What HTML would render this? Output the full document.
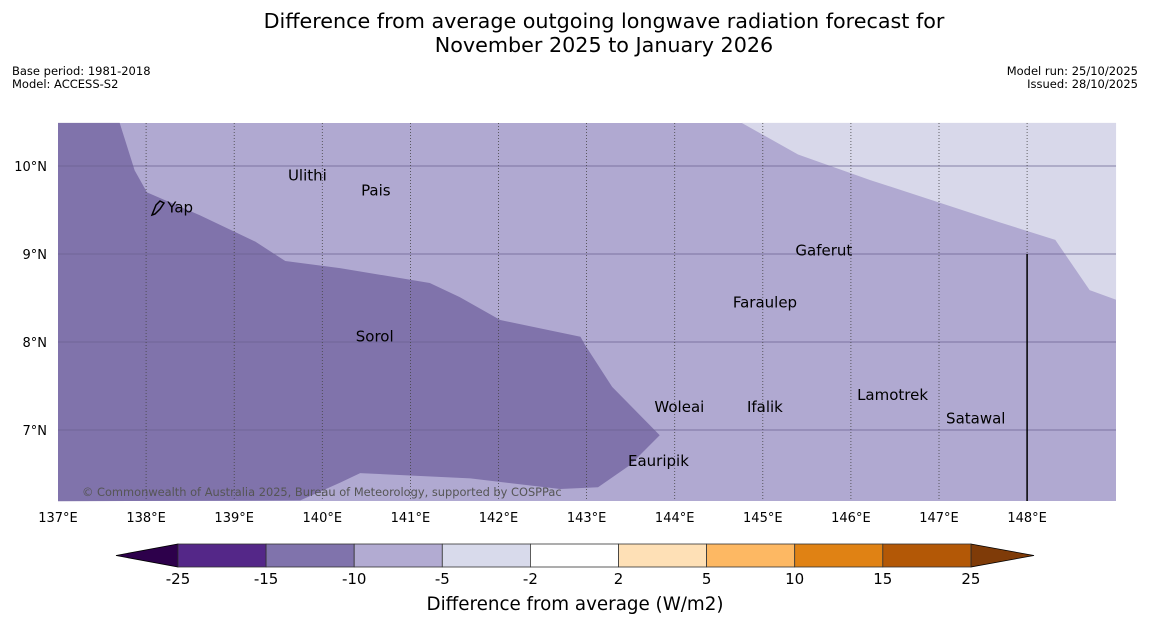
<!DOCTYPE html>
<html><head><meta charset="utf-8">
<style>
body{margin:0;background:#fff;width:1150px;height:644px;overflow:hidden;font-family:"DejaVu Sans","Liberation Sans",sans-serif;}
svg{display:block}
</style></head>
<body>
<svg id="chart" width="1150" height="644" xmlns="http://www.w3.org/2000/svg">
<text x="604" y="28" font-size="20.7" text-anchor="middle" fill="#000">Difference from average outgoing longwave radiation forecast for</text>
<text x="604" y="52" font-size="20.7" text-anchor="middle" fill="#000">November 2025 to January 2026</text>
<text x="12" y="75" font-size="11.5">Base period: 1981-2018</text>
<text x="12" y="88" font-size="11.5">Model: ACCESS-S2</text>
<text x="1138" y="75" font-size="11.5" text-anchor="end">Model run: 25/10/2025</text>
<text x="1138" y="88" font-size="11.5" text-anchor="end">Issued: 28/10/2025</text>
<g id="map"></g>
<g id="cbar"></g>
<text x="575" y="610" font-size="18.3" text-anchor="middle">Difference from average (W/m2)</text>
</svg>
<script>
const lonTicks=[137,138,139,140,141,142,143,144,145,146,147,148];
const latTicks=[10,9,8,7];
const darkLon=[137.0,137.70,137.87,138.01,138.61,139.24,139.58,140.20,141.22,141.56,142.02,142.93,142.98,143.29,143.83,143.49,143.13,142.70,141.68,140.43,140.20,139.75,137.0];
const darkLat=[10.49,10.49,9.95,9.70,9.44,9.14,8.92,8.84,8.67,8.51,8.25,8.06,7.97,7.49,6.94,6.60,6.35,6.33,6.45,6.51,6.40,6.20,6.19];
const paleLon=[144.76,145.40,146.22,147.69,148.32,148.71,149.01,149.01];
const paleLat=[10.49,10.13,9.84,9.36,9.16,8.59,8.48,10.49];
const placeNames=["Ulithi","Pais","Yap","Gaferut","Faraulep","Sorol","Woleai","Ifalik","Lamotrek","Satawal","Eauripik"];
const placeLon=[139.61,140.44,138.24,145.37,144.66,140.38,143.77,144.82,146.07,147.08,143.47];
const placeLat=[9.89,9.72,9.53,9.04,8.45,8.06,7.26,7.26,7.40,7.13,6.65];
const cbLevels=[-25,-15,-10,-5,-2,2,5,10,15,25];
const cbColors=["#542788","#8073ac","#b2abd2","#d8daeb","#ffffff","#fee0b6","#fdb863","#e08214","#b35806"];
const NS="http://www.w3.org/2000/svg";
const X=lon=>58+(lon-137)*88.1, Y=lat=>166-(lat-10)*88;
const map=document.getElementById('map');
function mk(tag,attrs,parent){const e=document.createElementNS(NS,tag);for(const k in attrs)e.setAttribute(k,attrs[k]);parent.appendChild(e);return e;}
let bg=mk('rect',{x:58,y:123,width:1058,height:378,fill:'#b0a9d1'},map);


let dk=mk('polygon',{points:darkLon.map((l,i)=>X(l)+','+Y(darkLat[i])).join(' '),fill:'#8073ab'},map);


let pl=mk('polygon',{points:paleLon.map((l,i)=>X(l)+','+Y(paleLat[i])).join(' '),fill:'#d8d8ea'},map);


latTicks.forEach(t=>{
 let l=mk('line',{x1:58,x2:1116,y1:Y(t),y2:Y(t),stroke:'#6a6290','stroke-width':0.8},map);
 
 
 let tx=mk('text',{x:47,y:Y(t)+5,'font-size':13,'text-anchor':'end'},map);tx.textContent=t+'°N';
 
 
});
lonTicks.forEach(t=>{
 if(t>137){let l=mk('line',{x1:X(t),x2:X(t),y1:123,y2:501,stroke:'#444','stroke-width':0.8,'stroke-dasharray':'1,2'},map);
 
 }
 let tx=mk('text',{x:X(t),y:522,'font-size':13,'text-anchor':'middle'},map);tx.textContent=t+'°E';
 
 
});
let vl=mk('line',{x1:X(148),x2:X(148),y1:Y(9),y2:501,stroke:'#000','stroke-width':1.5},map);


let yap=mk('path',{d:'M152,215 L156,205 L160,201 L164,203 L160,209 L155,214 Z',fill:'none',stroke:'#000','stroke-width':1.5},map);


placeNames.forEach((n,i)=>{
 let tx=mk('text',{x:X(placeLon[i]),y:Y(placeLat[i])+5,'font-size':15},map);tx.textContent=n;
 
 
});
let cp=mk('text',{x:82,y:496,'font-size':11.4,fill:'#555'},map);cp.textContent='© Commonwealth of Australia 2025, Bureau of Meteorology, supported by COSPPac';


// colorbar
const cb=document.getElementById('cbar');
const CX=i=>178+i*88.1, cy=544, ch=23;
let la=mk('polygon',{points:`116,${cy+ch/2} 178,${cy} 178,${cy+ch}`,fill:'#2d004b',stroke:'#000','stroke-width':0.8},cb);


let ra=mk('polygon',{points:`${CX(9)},${cy} 1034,${cy+ch/2} ${CX(9)},${cy+ch}`,fill:'#7f3b08',stroke:'#000','stroke-width':0.8},cb);


cbColors.forEach((c,i)=>{
 let r=mk('rect',{x:CX(i),y:cy,width:88.1,height:ch,fill:c,stroke:'#333','stroke-width':0.8},cb);
 
 
});
cbLevels.forEach((v,i)=>{
 let tx=mk('text',{x:CX(i),y:584,'font-size':15,'text-anchor':'middle'},cb);tx.textContent=v;
 
 
});
</script>
</body></html>
